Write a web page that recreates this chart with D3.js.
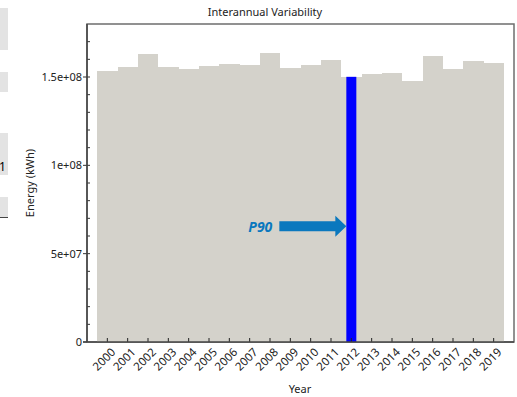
<!DOCTYPE html>
<html>
<head>
<meta charset="utf-8">
<script src="https://cdnjs.cloudflare.com/ajax/libs/d3/7.8.5/d3.min.js"></script>
<style>
  body { margin: 0; background: #fff; }
  svg { display: block; font-family: "Noto Sans", "Open Sans", sans-serif; }
</style>
</head>
<body>
<svg id="chart" width="517" height="397"></svg>
<script>
// annual energy per year (kWh)
var years = ['2000','2001','2002','2003','2004','2005','2006','2007','2008','2009',
             '2010','2011','2012','2013','2014','2015','2016','2017','2018','2019'];
var energy = [1.534e8, 1.557e8, 1.631e8, 1.557e8, 1.544e8, 1.563e8, 1.572e8, 1.567e8, 1.636e8, 1.550e8,
              1.568e8, 1.595e8, 1.501e8, 1.518e8, 1.521e8, 1.476e8, 1.619e8, 1.544e8, 1.589e8, 1.580e8];
var p90Year = ['2012'];
var p90Value = [1.501e8];
var arrowLevel = [6.55e7];
var yTicks = [0, 5e7, 1e8, 1.5e8];
var yTickLabels = ['0', '5e+07', '1e+08', '1.5e+08'];

var svg = d3.select('#chart');
// note: "top" is taken by window.top, so plot edges get their own names
var plotL = 87, plotR = 514, plotT = 24, plotB = 342;

// bits of the surrounding window, cut off at the left edge
var uiBoxes = [[8, 42], [72, 20], [133, 42], [197, 20]];
svg.selectAll('rect.ui').data(uiBoxes).enter().append('rect')
  .attr('class', 'ui')
  .attr('x', 0).attr('y', function(d){ return d[0]; })
  .attr('width', 8).attr('height', function(d){ return d[1]; })
  .attr('fill', '#e3e3e3');
svg.append('text').attr('x', -1).attr('y', 171).attr('font-size', 12).attr('fill', '#000').text('1');
svg.append('line').attr('x1', 0).attr('x2', 8).attr('y1', 217.5).attr('y2', 217.5).attr('stroke', '#444');

var x = d3.scaleBand().domain(years).range([plotL, plotR]).paddingInner(0).paddingOuter(0.5);
var y = d3.scaleLinear().domain([0, 1.8e8]).range([plotB, plotT]);

// frame
svg.append('rect').attr('x', plotL).attr('y', plotT).attr('width', plotR - plotL).attr('height', plotB - plotT)
  .attr('fill', '#fff').attr('stroke', '#6e6e6e').attr('stroke-width', 1.5);

// bars
svg.selectAll('rect.bar').data(years).enter().append('rect')
  .attr('class', 'bar')
  .attr('x', function(d){ return x(d); })
  .attr('width', x.bandwidth())
  .attr('y', function(d, i){ return y(energy[i]); })
  .attr('height', function(d, i){ return plotB - y(energy[i]); })
  .attr('fill', '#d4d2cb')
  .attr('shape-rendering', 'crispEdges');

// P90 bar
var blueW = 10;
svg.selectAll('rect.p90').data(p90Year).enter().append('rect')
  .attr('class', 'p90')
  .attr('x', function(d){ return x(d) + x.bandwidth() / 2 - blueW / 2; })
  .attr('width', blueW)
  .attr('y', function(d, i){ return y(p90Value[i]); })
  .attr('height', function(d, i){ return plotB - y(p90Value[i]); })
  .attr('fill', '#0000ff');

// arrow pointing at the P90 bar
var tipX = x(p90Year[0]) + x.bandwidth() / 2 - blueW / 2;
var ay = y(arrowLevel[0]);
var arrow = [[tipX - 67, ay - 5], [tipX - 11, ay - 5], [tipX - 11, ay - 10.5], [tipX, ay],
             [tipX - 11, ay + 10.5], [tipX - 11, ay + 5], [tipX - 67, ay + 5]];
svg.append('path').attr('d', d3.line()(arrow) + 'Z').attr('fill', '#0a78be');
svg.append('text').attr('x', tipX - 74).attr('y', ay + 5.5)
  .attr('text-anchor', 'end').attr('font-size', 14).attr('font-weight', 'bold').attr('font-style', 'italic')
  .attr('fill', '#0a78be').text('P90');

// y axis
var minor = d3.range(1e7, 1.8e8, 1e7);
svg.selectAll('line.ymin').data(minor).enter().append('line')
  .attr('x1', plotL).attr('x2', plotL + 3)
  .attr('y1', function(d){ return y(d); }).attr('y2', function(d){ return y(d); })
  .attr('stroke', '#333');
svg.selectAll('line.ymaj').data(yTicks).enter().append('line')
  .attr('x1', plotL - 4).attr('x2', plotL)
  .attr('y1', function(d){ return y(d); }).attr('y2', function(d){ return y(d); })
  .attr('stroke', '#333');
svg.selectAll('text.ylab').data(yTicks).enter().append('text')
  .attr('x', plotL - 5).attr('y', function(d){ return y(d); }).attr('dy', '0.35em')
  .attr('text-anchor', 'end').attr('font-size', 11).attr('fill', '#222')
  .text(function(d, i){ return yTickLabels[i]; });

// x axis ticks and labels
svg.selectAll('line.xt').data(years).enter().append('line')
  .attr('x1', function(d){ return x(d) + x.bandwidth() / 2; })
  .attr('x2', function(d){ return x(d) + x.bandwidth() / 2; })
  .attr('y1', plotB).attr('y2', plotB - 4)
  .attr('stroke', '#222');
svg.selectAll('text.xlab').data(years).enter().append('text')
  .attr('transform', function(d){ return 'translate(' + (x(d) + x.bandwidth() / 2 + 6) + ',' + (plotB + 8) + ') rotate(-45)'; })
  .attr('text-anchor', 'end').attr('dy', '0.35em').attr('font-size', 11.5).attr('fill', '#222')
  .text(function(d){ return d; });

// axis lines
svg.append('line').attr('x1', plotL).attr('x2', plotL).attr('y1', plotT).attr('y2', plotB)
  .attr('stroke', '#444').attr('stroke-width', 1.5);
svg.append('line').attr('x1', plotL - 4).attr('x2', plotR).attr('y1', plotB).attr('y2', plotB)
  .attr('stroke', '#444').attr('stroke-width', 1.5);

// titles
svg.append('text').attr('x', 265).attr('y', 16).attr('text-anchor', 'middle')
  .attr('font-size', 11).attr('fill', '#222').text('Interannual Variability');
svg.append('text').attr('x', 300).attr('y', 393).attr('text-anchor', 'middle')
  .attr('font-size', 11).attr('fill', '#222').text('Year');
svg.append('text').attr('transform', 'translate(34,183) rotate(-90)').attr('text-anchor', 'middle')
  .attr('font-size', 11).attr('fill', '#222').text('Energy (kWh)');
</script>
</body>
</html>
